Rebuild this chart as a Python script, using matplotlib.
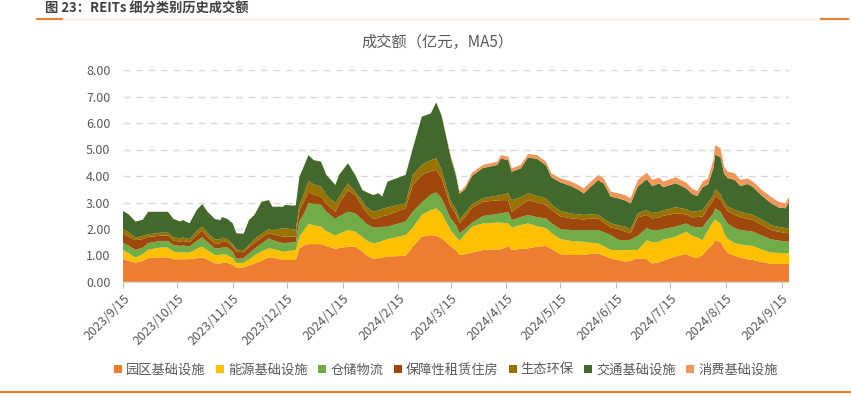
import matplotlib
matplotlib.use("Agg")
import matplotlib.pyplot as plt
import matplotlib.dates as mdates
from matplotlib.patches import Patch
from matplotlib.lines import Line2D
from matplotlib.ticker import FormatStrFormatter, FixedLocator, FixedFormatter
import datetime as dt
import numpy as np

plt.rcParams['font.family'] = ['Noto Sans CJK SC', 'DejaVu Sans']

# ---------------- data ----------------
dates = [
    "2023-09-15", "2023-09-18", "2023-09-22", "2023-09-26", "2023-09-29", "2023-10-06", "2023-10-10",
    "2023-10-13", "2023-10-17", "2023-10-18", "2023-10-22", "2023-10-26", "2023-10-29", "2023-11-01",
    "2023-11-05", "2023-11-08", "2023-11-09", "2023-11-12", "2023-11-15", "2023-11-17", "2023-11-21",
    "2023-11-24", "2023-11-27", "2023-12-01", "2023-12-05", "2023-12-07", "2023-12-13", "2023-12-14",
    "2023-12-19", "2023-12-20", "2023-12-22", "2023-12-25", "2023-12-27", "2023-12-30", "2024-01-03",
    "2024-01-06", "2024-01-11", "2024-01-13", "2024-01-18", "2024-01-22", "2024-01-26", "2024-01-28",
    "2024-02-01", "2024-02-04", "2024-02-06", "2024-02-09", "2024-02-19", "2024-02-23", "2024-02-28",
    "2024-03-04", "2024-03-07", "2024-03-10", "2024-03-15", "2024-03-18", "2024-03-20", "2024-03-23",
    "2024-03-27", "2024-04-02", "2024-04-10", "2024-04-12", "2024-04-16", "2024-04-18", "2024-04-23",
    "2024-04-27", "2024-05-02", "2024-05-07", "2024-05-10", "2024-05-15", "2024-05-21", "2024-05-25",
    "2024-05-28", "2024-06-01", "2024-06-05", "2024-06-08", "2024-06-12", "2024-06-16", "2024-06-20",
    "2024-06-23", "2024-06-27", "2024-07-02", "2024-07-05", "2024-07-09", "2024-07-11", "2024-07-15",
    "2024-07-18", "2024-07-24", "2024-07-27", "2024-07-30", "2024-08-02", "2024-08-05", "2024-08-08",
    "2024-08-09", "2024-08-12", "2024-08-14", "2024-08-16", "2024-08-20", "2024-08-23", "2024-08-27",
    "2024-08-30", "2024-09-04", "2024-09-09", "2024-09-13", "2024-09-17", "2024-09-19",
]

park = [  # 园区基础设施
    .86, .80, .73, .80, .90, .93, .93, .86, .86, .86, .86, .90, .93, .85,
    .70, .70, .72, .72, .65, .55, .55, .62, .70, .80, .93, .93, .83, .83,
    .83, .83, 1.27, 1.40, 1.43, 1.43, 1.43, 1.35, 1.25, 1.28, 1.33, 1.33, 1.15, 1.02,
    .88, .90, .93, .96, .99, 1.33, 1.71, 1.77, 1.75, 1.65, 1.35, 1.20, 1.02, 1.05,
    1.11, 1.21, 1.23, 1.23, 1.36, 1.21, 1.25, 1.27, 1.33, 1.36, 1.25, 1.05, 1.02, 1.02,
    1.02, 1.06, 1.08, 1.00, .89, .83, .77, .80, .89, .86, .70, .75, .80, .90,
    .96, 1.06, .95, .90, 1.02, 1.25, 1.45, 1.58, 1.50, 1.27, 1.10, .98, .92, .86,
    .83, .75, .68, .68, .68, .68,
]
energy = [  # 能源基础设施
    .35, .30, .19, .25, .32, .37, .37, .29, .25, .26, .25, .35, .40, .35,
    .32, .32, .33, .30, .25, .17, .17, .23, .30, .35, .34, .32, .31, .32,
    .37, .38, .44, .60, .75, .72, .66, .57, .50, .54, .63, .57, .55, .56,
    .58, .60, .62, .66, .78, .72, .82, .95, 1.03, .94, .61, .50, .54, .75,
    .98, 1.00, 1.01, 1.01, .85, .85, .90, .94, .77, .67, .60, .57, .53, .51,
    .50, .42, .38, .35, .32, .37, .44, .41, .32, .72, .80, .77, .80, .76,
    .75, .84, .80, .78, .56, .70, .83, .78, .70, .57, .52, .48, .50, .52,
    .53, .47, .43, .42, .40, .40,
]
storage = [  # 仓储物流
    .27, .28, .29, .25, .25, .25, .25, .25, .25, .26, .23, .30, .36, .30,
    .25, .25, .27, .28, .25, .16, .18, .23, .25, .30, .38, .33, .32, .32,
    .30, .31, .57, .65, .79, .80, .82, .73, .63, .66, .69, .69, .65, .63,
    .59, .56, .53, .47, .51, .60, .47, .58, .60, .57, .44, .45, .28, .20,
    .15, .28, .33, .35, .44, .28, .30, .32, .35, .37, .37, .38, .41, .43,
    .44, .48, .50, .53, .56, .40, .35, .39, .53, .45, .46, .44, .40, .39,
    .38, .31, .34, .39, .48, .40, .31, .42, .45, .56, .58, .57, .55, .54,
    .54, .53, .50, .47, .45, .44,
]
housing = [  # 保障性租赁住房
    .36, .34, .37, .32, .23, .20, .20, .16, .16, .17, .16, .23, .25, .20,
    .19, .19, .23, .20, .17, .27, .22, .24, .23, .23, .19, .22, .25, .24,
    .21, .19, .44, .45, .44, .35, .31, .30, .27, .47, .82, .69, .50, .44,
    .33, .36, .40, .44, .50, 1.01, 1.04, .88, .85, .75, .45, .40, .37, .45,
    .57, .54, .51, .50, .44, .31, .45, .56, .55, .51, .50, .48, .44, .42,
    .40, .44, .44, .37, .29, .40, .34, .24, .70, .50, .44, .48, .50, .50,
    .50, .34, .35, .38, .41, .45, .50, .47, .45, .47, .48, .50, .48, .46,
    .44, .40, .35, .33, .32, .32,
]
eco = [  # 生态环保
    .16, .16, .09, .12, .10, .11, .11, .12, .13, .13, .12, .14, .15, .15,
    .15, .15, .13, .12, .10, .07, .08, .08, .14, .14, .15, .15, .32, .32,
    .27, .25, .19, .30, .40, .38, .38, .33, .32, .25, .25, .13, .20, .19,
    .27, .28, .28, .28, .19, .38, .38, .42, .44, .32, .20, .20, .14, .15,
    .13, .13, .18, .19, .26, .44, .30, .26, .25, .25, .20, .20, .18, .17,
    .17, .15, .13, .15, .15, .15, .19, .15, .15, .19, .20, .21, .20, .21,
    .23, .20, .21, .23, .25, .20, .19, .25, .20, .16, .17, .19, .20, .20,
    .19, .20, .19, .18, .19, .19,
]
transport = [  # 交通基础设施
    .68, .68, .61, .61, .85, .79, .79, .70, .63, .66, .60, .80, .85, .80,
    .77, .72, .77, .76, .79, .62, .62, .94, .91, 1.21, 1.10, .89, .81, .88,
    .90, .94, 1.06, 1.05, .98, .92, .94, .76, .69, .84, .76, .63, .42, .56,
    .63, .65, .46, .98, 1.07, 1.00, 1.82, 1.76, 2.11, 2.05, 1.67, 1.27, .98, .90,
    1.07, 1.14, 1.16, 1.38, 1.25, 1.07, 1.09, 1.35, 1.40, 1.24, 1.03, 1.08, 1.04, .93,
    .81, 1.05, 1.32, 1.32, 1.01, 1.01, .99, .97, 1.01, 1.16, 1.02, 1.07, .88, .90,
    .91, .78, .68, .56, .86, .68, 1.02, 1.30, 1.40, 1.05, 1.07, 1.13, .97, 1.12,
    1.06, .90, .83, .74, .74, .99,
]
consumer = [  # 消费基础设施
    0, 0, 0, 0, 0, 0, 0, 0, 0, 0, 0, 0, 0, 0,
    0, 0, 0, 0, 0, 0, 0, 0, 0, 0, 0, 0, 0, 0,
    0, 0, 0, 0, 0, 0, 0, 0, 0, 0, 0, 0, 0, 0,
    0, 0, 0, 0, 0, 0, 0, 0, 0, .02, .08, .08, .08, .10,
    .12, .12, .12, .13, .13, .13, .13, .13, .14, .14, .15, .15, .17, .18,
    .19, .19, .19, .19, .19, .19, .20, .20, .25, .25, .23, .22, .21, .22,
    .22, .22, .20, .19, .21, .23, .30, .37, .34, .27, .24, .25, .23, .21,
    .20, .22, .24, .21, .19, .20,
]

series_names = ["园区基础设施", "能源基础设施", "仓储物流", "保障性租赁住房",
                "生态环保", "交通基础设施", "消费基础设施"]
colors = ["#ED7D31", "#FFC000", "#70AD47", "#9E480E", "#997300", "#43682B", "#F1975A"]

tick_dates = ["2023-09-15", "2023-10-15", "2023-11-15", "2023-12-15", "2024-01-15",
              "2024-02-15", "2024-03-15", "2024-04-15", "2024-05-15", "2024-06-15",
              "2024-07-15", "2024-08-15", "2024-09-15"]
tick_labels = ["2023/9/15", "2023/10/15", "2023/11/15", "2023/12/15", "2024/1/15",
               "2024/2/15", "2024/3/15", "2024/4/15", "2024/5/15", "2024/6/15",
               "2024/7/15", "2024/8/15", "2024/9/15"]

title_text = "图 23：REITs 细分类别历史成交额"
chart_title = "成交额（亿元，MA5）"

# ---------------- figure ----------------
W, H = 851, 397
fig = plt.figure(figsize=(W / 100, H / 100), dpi=100)

def fx(px):
    return px / W

def fy(py):
    return 1 - py / H

ax = fig.add_axes([fx(123), fy(282), fx(789) - fx(123), fy(70) - fy(282)])

x = [dt.datetime.strptime(d, "%Y-%m-%d") for d in dates]
ax.stackplot(x, park, energy, storage, housing, eco, transport, consumer,
             colors=colors, labels=series_names, linewidth=0)

ax.set_ylim(0, 8)
ax.set_xlim(x[0], x[-1])
ax.set_yticks(np.arange(0, 9, 1))
ax.yaxis.set_major_formatter(FormatStrFormatter('%.2f'))
ax.grid(axis='y', linestyle=(0, (5, 4)), color='#d9d9d9', linewidth=1.0)
ax.set_axisbelow(True)

for s in ['top', 'right', 'left']:
    ax.spines[s].set_visible(False)
ax.spines['bottom'].set_color('#d9d9d9')
ax.spines['bottom'].set_linewidth(1.0)

tick_nums = [mdates.date2num(dt.datetime.strptime(d, "%Y-%m-%d")) for d in tick_dates]
ax.xaxis.set_major_locator(FixedLocator(tick_nums))
ax.xaxis.set_major_formatter(FixedFormatter(tick_labels))
ax.tick_params(axis='x', length=4, color='#bfbfbf', labelsize=9,
               labelcolor='#595959', pad=3)
ax.tick_params(axis='y', length=0, labelsize=9, labelcolor='#595959', pad=9)
for lab in ax.get_xticklabels():
    lab.set_rotation(45)
    lab.set_ha('right')
    lab.set_rotation_mode('anchor')

# titles
fig.text(fx(45), fy(9), title_text, fontsize=9.5, fontweight='bold',
         color='#404040', ha='left', va='center')
fig.text(fx(438), fy(42), chart_title, fontsize=11, color='#595959',
         ha='center', va='center')

# decorative lines
fig.add_artist(Line2D([fx(62), fx(821)], [fy(19), fy(19)], color='#FBE5D6',
                      linewidth=0.8, transform=fig.transFigure))
fig.add_artist(Line2D([fx(37), fx(62)], [fy(19), fy(19)], color='#ED7D31',
                      linewidth=1.5, transform=fig.transFigure))
fig.add_artist(Line2D([fx(821), fx(848)], [fy(19), fy(19)], color='#ED7D31',
                      linewidth=1.5, transform=fig.transFigure))
fig.add_artist(Line2D([0, 1], [fy(392), fy(392)], color='#ED7D31',
                      linewidth=1.5, transform=fig.transFigure))

# legend
handles = [Patch(facecolor=c, edgecolor='none') for c in colors]
leg = fig.legend(handles, series_names, loc='center', bbox_to_anchor=(fx(446), fy(370)),
                 ncol=7, frameon=False, fontsize=9.5, handlelength=0.6, handleheight=0.6,
                 handletextpad=0.3, columnspacing=0.8, borderaxespad=0)
for t in leg.get_texts():
    t.set_color('#595959')

fig.savefig("out.png", dpi=100)
